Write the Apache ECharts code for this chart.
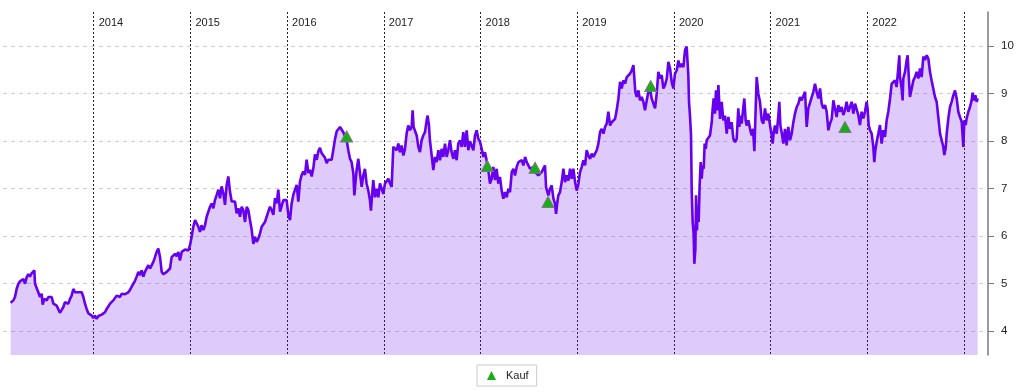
<!DOCTYPE html>
<html><head><meta charset="utf-8">
<script src="https://cdn.jsdelivr.net/npm/echarts@6/dist/echarts.min.js"></script>
<style>html,body{margin:0;padding:0;background:#fff}#c{width:1024px;height:392px}</style>
</head><body><div id="c"></div>
<script>
// Kursverlauf: [Jahr (dezimal), Kurs]
const kurs = [
[2013.141,4.60],[2013.169,4.65],[2013.186,4.72],[2013.203,4.89],[2013.221,5.00],[2013.238,5.05],[2013.255,5.03],[2013.272,5.10],[2013.290,5.00],[2013.307,5.14],
[2013.324,5.20],[2013.341,5.15],[2013.358,5.22],[2013.376,5.25],[2013.386,5.28],[2013.393,5.00],[2013.410,4.96],[2013.427,4.82],[2013.445,4.72],[2013.462,4.79],
[2013.472,4.56],[2013.489,4.68],[2013.514,4.65],[2013.531,4.72],[2013.548,4.68],[2013.565,4.72],[2013.583,4.58],[2013.600,4.61],[2013.617,4.54],[2013.634,4.51],
[2013.651,4.39],[2013.669,4.45],[2013.686,4.51],[2013.703,4.61],[2013.720,4.65],[2013.738,4.58],[2013.755,4.68],[2013.772,4.75],[2013.789,4.89],[2013.807,4.82],
[2013.824,4.79],[2013.841,4.82],[2013.858,4.79],[2013.876,4.82],[2013.893,4.72],[2013.910,4.58],[2013.927,4.47],[2013.944,4.38],[2013.962,4.35],[2013.979,4.33],
[2013.996,4.28],[2014.013,4.33],[2014.031,4.26],[2014.048,4.32],[2014.065,4.33],[2014.082,4.35],[2014.100,4.33],[2014.117,4.40],[2014.134,4.47],[2014.151,4.52],
[2014.169,4.58],[2014.186,4.61],[2014.203,4.65],[2014.220,4.68],[2014.237,4.75],[2014.255,4.78],[2014.272,4.72],[2014.289,4.79],[2014.306,4.75],[2014.324,4.78],
[2014.341,4.75],[2014.358,4.82],[2014.375,4.87],[2014.393,4.91],[2014.410,5.00],[2014.427,5.06],[2014.444,5.15],[2014.462,5.25],[2014.479,5.18],[2014.496,5.28],
[2014.513,5.15],[2014.530,5.25],[2014.548,5.28],[2014.565,5.39],[2014.582,5.32],[2014.599,5.28],[2014.617,5.46],[2014.634,5.56],[2014.651,5.67],[2014.668,5.74],
[2014.679,5.78],[2014.686,5.56],[2014.703,5.25],[2014.720,5.20],[2014.737,5.22],[2014.755,5.25],[2014.772,5.28],[2014.789,5.32],[2014.806,5.56],
[2014.823,5.53],[2014.841,5.63],[2014.858,5.58],[2014.875,5.67],[2014.892,5.49],[2014.910,5.67],[2014.927,5.63],[2014.944,5.72],[2014.961,5.76],[2014.979,5.70],
[2014.996,5.81],[2015.013,5.99],[2015.030,6.20],[2015.048,6.34],[2015.065,6.30],[2015.082,6.20],[2015.099,6.09],[2015.116,6.23],[2015.134,6.13],[2015.151,6.23],
[2015.168,6.41],[2015.185,6.45],[2015.203,6.62],[2015.220,6.69],[2015.237,6.59],[2015.254,6.76],[2015.272,6.87],[2015.289,6.98],[2015.306,6.80],[2015.323,7.05],
[2015.341,6.90],[2015.358,6.66],[2015.375,7.08],[2015.392,7.26],[2015.399,7.29],[2015.409,6.94],[2015.427,6.73],[2015.444,6.76],[2015.461,6.73],[2015.478,6.48],
[2015.496,6.59],[2015.513,6.41],[2015.530,6.62],[2015.547,6.55],[2015.565,6.30],[2015.582,6.62],[2015.599,6.55],[2015.616,6.34],[2015.634,6.13],[2015.651,5.84],
[2015.668,5.99],[2015.685,5.88],[2015.702,5.95],[2015.720,6.06],[2015.737,6.20],[2015.754,6.16],[2015.771,6.30],[2015.789,6.27],[2015.806,6.52],[2015.823,6.62],
[2015.840,6.55],[2015.858,6.45],[2015.875,6.80],[2015.892,6.69],[2015.909,6.98],[2015.927,6.52],[2015.944,6.55],[2015.961,6.76],[2015.978,6.80],[2015.995,6.76],
[2016.013,6.45],[2016.030,6.34],[2016.047,6.69],[2016.064,6.87],[2016.082,6.98],[2016.099,7.08],[2016.116,6.73],[2016.133,7.15],[2016.151,7.29],[2016.168,7.36],
[2016.185,7.29],[2016.202,7.61],[2016.220,7.33],[2016.237,7.40],[2016.254,7.26],[2016.271,7.43],[2016.288,7.72],[2016.306,7.61],[2016.323,7.79],[2016.340,7.86],
[2016.357,7.75],[2016.375,7.75],[2016.392,7.65],[2016.409,7.54],[2016.426,7.61],[2016.444,7.58],[2016.461,7.61],[2016.478,7.82],[2016.495,8.04],[2016.513,8.21],
[2016.530,8.25],
[2016.547,8.30],[2016.564,8.33],[2016.581,8.19],[2016.598,8.16],[2016.616,8.02],[2016.633,7.81],[2016.650,7.63],[2016.667,7.56],[2016.685,7.32],[2016.695,6.86],
[2016.709,7.18],[2016.719,7.39],[2016.736,7.63],[2016.754,7.32],[2016.771,7.04],[2016.788,7.28],[2016.805,7.42],[2016.822,7.11],[2016.840,6.96],[2016.857,6.75],
[2016.867,6.54],[2016.881,6.93],[2016.891,7.18],[2016.909,6.82],[2016.926,7.00],[2016.943,6.82],[2016.960,7.11],[2016.978,7.07],[2016.995,6.89],[2017.012,7.11],
[2017.029,7.14],[2017.047,7.21],[2017.064,7.11],[2017.081,7.04],[2017.098,7.88],[2017.115,7.91],[2017.133,7.81],[2017.150,7.95],[2017.167,7.77],[2017.184,7.91],
[2017.202,7.70],[2017.219,7.84],[2017.236,8.16],[2017.253,8.33],[2017.271,8.23],[2017.288,8.30],[2017.298,8.65],[2017.308,8.30],[2017.322,8.26],[2017.340,8.12],
[2017.357,7.88],[2017.374,7.77],[2017.391,8.02],[2017.408,8.12],[2017.426,8.19],[2017.443,8.44],[2017.453,8.54],[2017.467,8.33],[2017.477,8.02],[2017.495,7.70],
[2017.512,7.39],[2017.529,7.67],[2017.546,7.56],[2017.564,7.81],[2017.581,7.60],[2017.598,7.84],[2017.615,7.67],[2017.633,7.95],[2017.650,7.67],[2017.667,7.81],
[2017.684,8.02],[2017.701,7.77],[2017.719,7.63],[2017.736,7.81],[2017.753,7.60],[2017.770,7.95],[2017.788,8.02],[2017.805,7.88],[2017.822,8.19],[2017.839,7.88],
[2017.857,8.23],[2017.874,7.81],[2017.891,8.00],[2017.908,8.02],[2017.926,7.81],[2017.943,8.12],[2017.960,8.23],[2017.977,8.05],[2017.994,8.00],[2018.012,7.84],
[2018.029,7.67],[2018.046,7.77],[2018.063,7.60],[2018.081,7.39],[2018.098,7.11],[2018.115,7.21],[2018.132,7.46],[2018.150,7.18],[2018.167,7.42],[2018.184,7.11],
[2018.201,7.25],
[2018.219,6.96],[2018.236,6.79],[2018.254,6.93],[2018.271,6.82],[2018.288,7.00],[2018.305,6.93],[2018.323,7.35],[2018.340,7.42],[2018.357,7.28],[2018.374,7.46],
[2018.392,7.56],[2018.409,7.53],[2018.426,7.60],[2018.443,7.49],[2018.461,7.67],[2018.478,7.56],[2018.495,7.49],[2018.512,7.42],[2018.529,7.46],[2018.547,7.46],
[2018.564,7.35],[2018.581,7.39],[2018.598,7.28],[2018.616,7.32],[2018.633,7.35],[2018.650,7.39],[2018.667,7.49],[2018.678,7.03],[2018.691,7.07],[2018.702,6.86],
[2018.719,7.00],[2018.736,7.07],[2018.754,6.79],[2018.771,6.68],[2018.781,6.47],[2018.795,6.72],[2018.805,6.86],[2018.822,6.93],[2018.840,7.14],[2018.857,7.42],
[2018.874,7.14],[2018.891,7.28],[2018.909,7.17],[2018.926,7.42],[2018.943,7.21],[2018.960,7.42],[2018.978,7.14],[2018.995,6.96],[2019.012,7.10],[2019.029,7.35],
[2019.047,7.46],[2019.064,7.60],[2019.081,7.49],[2019.098,7.81],[2019.115,7.70],[2019.133,7.63],[2019.150,7.74],[2019.167,7.67],[2019.184,7.74],[2019.202,7.81],
[2019.219,7.95],[2019.236,8.19],[2019.253,8.26],[2019.271,8.16],[2019.288,8.30],[2019.305,8.37],[2019.322,8.62],[2019.340,8.33],[2019.357,8.40],[2019.374,8.37],
[2019.391,8.47],[2019.408,8.65],[2019.426,8.90],[2019.443,9.25],[2019.460,9.11],[2019.477,9.28],[2019.495,9.21],[2019.512,9.35],[2019.529,9.32],[2019.546,9.42],
[2019.564,9.49],[2019.581,9.60],[2019.594,9.61],[2019.601,9.04],[2019.615,8.93],[2019.633,9.07],[2019.650,8.86],[2019.667,8.93],[2019.684,8.83],[2019.701,8.65],
[2019.719,8.86],[2019.736,9.04],[2019.753,9.11],[2019.770,8.90],[2019.788,8.79],[2019.805,8.69],[2019.822,9.00],[2019.839,9.46],[2019.857,9.32],[2019.874,9.39],
[2019.891,9.11],[2019.908,9.18],[2019.926,9.32],[2019.943,9.67],
[2019.960,9.53],[2019.977,9.25],[2019.994,9.11],[2020.011,9.42],[2020.029,9.49],[2020.046,9.70],[2020.063,9.56],[2020.080,9.63],[2020.098,9.56],[2020.115,9.92],
[2020.132,9.99],[2020.142,10.00],[2020.149,9.39],[2020.156,8.83],[2020.167,8.51],[2020.177,8.12],[2020.184,6.96],[2020.194,6.30],[2020.204,6.05],[2020.211,5.42],
[2020.222,5.73],[2020.229,6.86],[2020.239,6.12],[2020.246,6.61],[2020.256,6.30],[2020.266,7.07],[2020.277,7.56],[2020.287,7.21],[2020.298,7.49],[2020.308,7.42],
[2020.318,7.95],[2020.329,7.84],[2020.339,8.02],[2020.356,7.98],[2020.373,8.12],[2020.391,8.40],[2020.401,8.69],[2020.411,8.90],[2020.425,8.58],[2020.435,9.07],
[2020.446,8.65],[2020.460,9.18],[2020.477,8.47],[2020.494,8.83],[2020.511,8.44],[2020.528,8.54],[2020.546,8.16],[2020.563,8.51],[2020.580,8.26],[2020.597,8.40],
[2020.615,8.05],[2020.632,7.98],[2020.649,8.05],[2020.666,8.69],[2020.677,8.30],[2020.687,8.54],[2020.701,8.37],[2020.718,8.72],[2020.728,8.90],[2020.742,8.44],
[2020.752,8.33],[2020.770,8.44],[2020.787,8.26],[2020.804,8.12],[2020.818,8.26],[2020.832,7.79],[2020.846,8.72],[2020.856,9.35],[2020.873,9.00],[2020.890,8.83],
[2020.908,8.44],[2020.925,8.37],[2020.942,8.69],[2020.959,8.44],[2020.977,8.58],[2020.994,8.33],[2021.011,8.12],[2021.021,7.95],[2021.032,8.19],[2021.045,8.33],
[2021.063,8.16],[2021.080,8.54],[2021.090,8.83],[2021.101,8.33],[2021.114,8.19],[2021.132,7.95],[2021.149,8.26],[2021.166,7.91],[2021.183,8.30],[2021.201,8.02],
[2021.218,8.16],[2021.235,8.40],[2021.252,8.58],[2021.270,8.72],[2021.287,8.79],[2021.304,8.93],[2021.321,8.86],[2021.339,8.83],[2021.356,9.04],[2021.373,8.30],
[2021.390,8.69],[2021.407,8.65],[2021.425,8.93],[2021.442,9.04],[2021.459,9.21],[2021.476,9.04],[2021.494,8.90],[2021.511,9.11],[2021.528,8.79],[2021.545,8.69],
[2021.563,8.76],[2021.580,8.62],[2021.597,8.23],[2021.614,8.37],[2021.632,8.47],[2021.649,8.86],
[2021.666,8.86],[2021.683,8.51],[2021.700,8.76],[2021.717,8.62],[2021.735,8.72],[2021.752,8.55],[2021.769,8.65],[2021.786,8.83],[2021.804,8.62],[2021.821,8.72],
[2021.838,8.83],[2021.855,8.58],[2021.873,8.79],[2021.890,8.83],[2021.907,8.55],[2021.924,8.34],[2021.941,8.62],[2021.959,8.48],[2021.976,8.62],[2021.993,8.83],
[2022.003,8.69],[2022.014,8.34],[2022.028,8.23],[2022.045,8.16],[2022.062,7.88],[2022.072,7.56],[2022.083,7.81],[2022.097,7.99],[2022.114,8.16],[2022.131,8.34],
[2022.148,7.95],[2022.166,8.23],[2022.183,8.09],[2022.200,8.44],[2022.217,8.62],[2022.235,8.90],[2022.252,9.21],[2022.269,9.18],[2022.286,9.28],[2022.303,9.14],
[2022.321,9.56],[2022.331,9.81],[2022.338,9.35],[2022.355,9.11],[2022.365,8.86],[2022.372,9.32],[2022.390,9.46],[2022.407,9.71],[2022.417,9.81],[2022.427,9.42],
[2022.441,8.93],[2022.459,8.90],[2022.476,9.28],[2022.493,9.35],[2022.510,9.46],[2022.528,9.32],[2022.545,9.53],[2022.562,9.35],[2022.579,9.78],[2022.596,9.71],
[2022.614,9.81],[2022.631,9.74],[2022.648,9.46],[2022.665,9.28],[2022.683,9.25],[2022.700,8.93],[2022.717,8.83],[2022.734,8.51],[2022.752,8.16],[2022.769,8.02],
[2022.786,7.88],[2022.796,7.71],[2022.810,7.85],[2022.821,8.16],[2022.838,8.48],[2022.855,8.72],[2022.872,8.83],[2022.890,8.97],[2022.907,9.07],[2022.924,8.90],
[2022.941,8.62],[2022.958,8.51],[2022.976,8.41],[2022.993,7.88],[2023.003,8.44],[2023.017,8.34],[2023.027,8.48],[2023.045,8.62],[2023.062,8.72],[2023.079,8.86],
[2023.089,9.02],[2023.103,8.86],[2023.117,8.97],[2023.131,8.83],[2023.141,8.90]
];
// Kaufsignale
const kaufDates  = [2016.616, 2018.070, 2018.564, 2018.698, 2019.760, 2021.769];
const kaufPrices = [8.10, 7.48, 7.44, 6.72, 9.16, 8.30];
const xRange = [2013.062, 2023.248];
const yRange = [3.5, 10.72];
const lastYearLabel = 2022;

const FONT = 'Liberation Sans, Arial, Helvetica, sans-serif';
const chart = echarts.init(document.getElementById('c'), null, {renderer: 'canvas'});
chart.setOption({
  animation: false,
  grid: {left: 3, right: 36, top: 12, bottom: 37},
  legend: {
    data: ['Kauf'], left: 477, top: 365, padding: [5, 8, 5, 10],
    borderColor: '#ccc', borderWidth: 1, itemWidth: 9, itemHeight: 9,
    itemStyle: {borderWidth: 0, opacity: 1},
    textStyle: {fontSize: 11, color: '#222', fontFamily: FONT, padding: [0, 0, 0, 5]}
  },
  xAxis: {
    type: 'value', position: 'top', min: xRange[0], max: xRange[1], splitNumber: 10,
    axisLine: {show: false}, axisTick: {show: false},
    axisLabel: {inside: true, margin: 5, align: 'left', padding: [0, 0, 0, 5], color: '#222',
      fontSize: 11, fontFamily: FONT, showMinLabel: false, showMaxLabel: false,
      formatter: v => (Math.round(v) <= lastYearLabel ? String(Math.round(v)) : '')},
    splitLine: {show: true, showMinLine: false, showMaxLine: false,
      lineStyle: {color: '#222', type: [2, 2], width: 1}}
  },
  yAxis: {
    type: 'value', position: 'right', min: yRange[0], max: yRange[1], splitNumber: 7,
    axisLine: {show: true, lineStyle: {color: '#7a7a7a', width: 1.5}},
    axisTick: {show: true, length: 6, lineStyle: {color: '#7a7a7a'}},
    axisLabel: {margin: 13, color: '#222', fontSize: 11.5, fontFamily: FONT,
      showMinLabel: false, showMaxLabel: false},
    splitLine: {show: true, showMinLine: false, showMaxLine: false,
      lineStyle: {color: '#cfcfcf', type: [4, 4], width: 1}}
  },
  series: [
    {
      name: 'Kurs', type: 'line', data: kurs, showSymbol: false, symbol: 'none',
      lineStyle: {color: '#6600ee', width: 2.6}, itemStyle: {color: '#6600ee'},
      areaStyle: {origin: 'start', color: 'rgba(110, 20, 235, 0.22)', opacity: 1},
      sampling: null, z: 2
    },
    {
      name: 'Kauf', type: 'scatter', data: kaufDates.map((d, i) => [d, kaufPrices[i]]),
      symbol: 'triangle', symbolSize: [12, 11],
      itemStyle: {color: '#16b016', borderColor: '#7a7a7a', borderWidth: 1, opacity: 1},
      z: 5
    }
  ]
});
</script></body></html>
